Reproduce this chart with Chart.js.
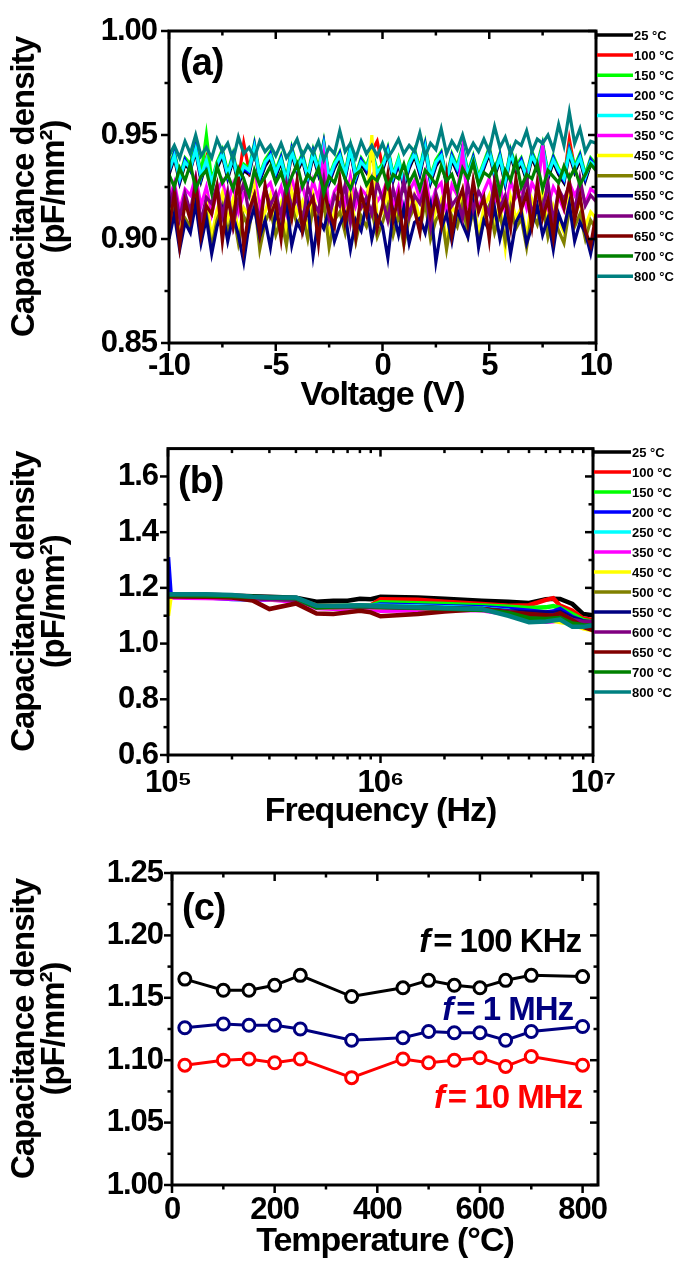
<!DOCTYPE html>
<html>
<head>
<meta charset="utf-8">
<script src="https://cdn.jsdelivr.net/npm/chart.js@4.4.0/dist/chart.umd.min.js"></script>
<style>
  html, body { margin: 0; padding: 0; background: #fff; }
  #page { position: relative; width: 678px; height: 1262px; overflow: hidden; }
  canvas { position: absolute; left: 0; }
</style>
</head>
<body>
<div id="page">
  <canvas id="chartA" width="678" height="420" style="top:0px"></canvas>
  <canvas id="chartB" width="678" height="425" style="top:420px"></canvas>
  <canvas id="chartC" width="678" height="417" style="top:845px"></canvas>
</div>
<script>
// ============================================
// Capacitance density vs voltage / frequency / temperature
// ============================================

// --- shared legend (annealing temperatures) ---
const tempLabels = ['25 °C', '100 °C', '150 °C', '200 °C', '250 °C', '350 °C', '450 °C',
  '500 °C', '550 °C', '600 °C', '650 °C', '700 °C', '800 °C'];
const seriesColors = ['#000000', '#ff0000', '#00ff00', '#0000ff', '#00ffff', '#ff00ff', '#ffff00',
  '#808000', '#000080', '#800080', '#800000', '#008000', '#008080'];

// --- panel (a): C-V sweep ---
const voltage = [-10, -9.75, -9.5, -9.25, -9, -8.75, -8.5, -8.25, -8, -7.75, -7.5, -7.25, -7, -6.75, -6.5, -6.25, -6, -5.75, -5.5, -5.25,
  -5, -4.75, -4.5, -4.25, -4, -3.75, -3.5, -3.25, -3, -2.75, -2.5, -2.25, -2, -1.75, -1.5, -1.25, -1, -0.75, -0.5, -0.25,
  0, 0.25, 0.5, 0.75, 1, 1.25, 1.5, 1.75, 2, 2.25, 2.5, 2.75, 3, 3.25, 3.5, 3.75, 4, 4.25, 4.5, 4.75,
  5, 5.25, 5.5, 5.75, 6, 6.25, 6.5, 6.75, 7, 7.25, 7.5, 7.75, 8, 8.25, 8.5, 8.75, 9, 9.25, 9.5, 9.75, 10];

const cvT25 = [0.931,0.939,0.927,0.936,0.933,0.942,0.928,0.937,0.925,0.934,0.940,0.929,0.938,0.926,0.933,0.931,0.943,0.928,0.935,0.939,
  0.930,0.937,0.926,0.941,0.932,0.938,0.928,0.940,0.931,0.944,0.927,0.934,0.939,0.929,0.942,0.928,0.936,0.932,0.940,0.930,
  0.933,0.941,0.928,0.936,0.925,0.934,0.940,0.931,0.943,0.927,0.935,0.939,0.926,0.938,0.932,0.942,0.929,0.937,0.927,0.934,
  0.941,0.930,0.938,0.926,0.940,0.932,0.936,0.928,0.939,0.933,0.943,0.929,0.937,0.931,0.927,0.941,0.932,0.938,0.928,0.936,0.934];
const cvT100 = [0.933,0.941,0.929,0.938,0.935,0.945,0.930,0.939,0.927,0.936,0.942,0.931,0.940,0.928,0.946,0.933,0.944,0.930,0.937,0.941,
  0.932,0.939,0.928,0.943,0.934,0.940,0.930,0.942,0.933,0.946,0.929,0.936,0.941,0.931,0.944,0.930,0.938,0.934,0.942,0.947,
  0.935,0.943,0.930,0.938,0.927,0.936,0.942,0.933,0.945,0.929,0.937,0.941,0.928,0.940,0.934,0.944,0.931,0.939,0.929,0.936,
  0.943,0.932,0.940,0.928,0.942,0.934,0.938,0.930,0.941,0.935,0.945,0.931,0.939,0.933,0.929,0.948,0.934,0.940,0.930,0.938,0.935];
const cvT150 = [0.934,0.942,0.930,0.939,0.936,0.946,0.931,0.950,0.928,0.937,0.943,0.932,0.941,0.929,0.936,0.934,0.946,0.931,0.938,0.942,
  0.933,0.940,0.929,0.944,0.935,0.941,0.931,0.943,0.934,0.947,0.930,0.937,0.942,0.932,0.945,0.931,0.939,0.935,0.943,0.933,
  0.936,0.944,0.931,0.939,0.928,0.937,0.943,0.934,0.946,0.930,0.938,0.942,0.929,0.941,0.935,0.945,0.932,0.940,0.930,0.937,
  0.944,0.933,0.941,0.929,0.943,0.935,0.939,0.931,0.942,0.936,0.946,0.932,0.940,0.934,0.930,0.944,0.935,0.941,0.931,0.939,0.936];
const cvT200 = [0.932,0.941,0.928,0.938,0.933,0.944,0.929,0.937,0.926,0.935,0.942,0.930,0.940,0.927,0.934,0.932,0.945,0.929,0.936,0.941,
  0.931,0.939,0.927,0.943,0.933,0.940,0.929,0.942,0.932,0.946,0.928,0.935,0.941,0.930,0.944,0.929,0.938,0.933,0.942,0.931,
  0.934,0.943,0.929,0.937,0.926,0.935,0.942,0.932,0.945,0.928,0.936,0.941,0.927,0.940,0.933,0.944,0.930,0.939,0.928,0.935,
  0.943,0.931,0.940,0.927,0.942,0.933,0.938,0.929,0.941,0.934,0.945,0.930,0.939,0.932,0.928,0.943,0.933,0.940,0.929,0.938,0.934];
const cvT250 = [0.933,0.940,0.929,0.937,0.934,0.943,0.930,0.938,0.927,0.936,0.941,0.931,0.939,0.928,0.935,0.933,0.944,0.930,0.937,0.940,
  0.932,0.938,0.928,0.942,0.934,0.939,0.930,0.941,0.933,0.945,0.929,0.936,0.940,0.931,0.943,0.930,0.937,0.934,0.941,0.932,
  0.935,0.942,0.930,0.938,0.927,0.936,0.941,0.933,0.944,0.929,0.937,0.940,0.928,0.939,0.934,0.943,0.931,0.938,0.929,0.936,
  0.942,0.932,0.939,0.928,0.941,0.934,0.937,0.930,0.940,0.935,0.944,0.931,0.938,0.933,0.929,0.942,0.934,0.939,0.930,0.937,0.935];
const cvT350 = [0.919,0.927,0.914,0.924,0.921,0.930,0.916,0.925,0.912,0.923,0.928,0.917,0.926,0.913,0.922,0.920,0.931,0.915,0.924,0.927,
  0.918,0.925,0.913,0.929,0.920,0.926,0.915,0.928,0.919,0.940,0.914,0.923,0.927,0.917,0.930,0.916,0.924,0.921,0.928,0.918,
  0.922,0.929,0.916,0.925,0.913,0.923,0.928,0.919,0.931,0.915,0.924,0.927,0.912,0.926,0.921,0.942,0.917,0.925,0.914,0.923,
  0.929,0.918,0.926,0.913,0.928,0.920,0.924,0.915,0.927,0.922,0.945,0.916,0.925,0.920,0.914,0.927,0.921,0.926,0.917,0.924,0.922];
const cvT450 = [0.910,0.920,0.904,0.916,0.912,0.924,0.907,0.918,0.901,0.914,0.922,0.909,0.919,0.903,0.915,0.911,0.925,0.906,0.913,0.921,
  0.908,0.917,0.902,0.923,0.912,0.918,0.905,0.921,0.910,0.926,0.900,0.914,0.919,0.907,0.924,0.904,0.917,0.912,0.950,0.909,
  0.913,0.922,0.906,0.918,0.899,0.915,0.921,0.908,0.925,0.903,0.914,0.919,0.897,0.916,0.911,0.923,0.906,0.920,0.902,0.915,
  0.921,0.908,0.917,0.896,0.920,0.910,0.915,0.901,0.919,0.912,0.924,0.905,0.916,0.909,0.903,0.920,0.911,0.918,0.906,0.913,0.910];
const cvT500 = [0.904,0.915,0.899,0.910,0.906,0.918,0.901,0.912,0.896,0.909,0.916,0.903,0.913,0.898,0.911,0.905,0.919,0.895,0.908,0.914,
  0.902,0.910,0.897,0.916,0.907,0.912,0.900,0.915,0.905,0.918,0.896,0.909,0.913,0.903,0.917,0.899,0.911,0.906,0.914,0.901,
  0.908,0.916,0.902,0.912,0.897,0.910,0.915,0.904,0.918,0.900,0.909,0.913,0.895,0.911,0.906,0.917,0.902,0.914,0.898,0.910,
  0.916,0.903,0.912,0.899,0.915,0.905,0.910,0.896,0.913,0.907,0.917,0.901,0.911,0.904,0.898,0.914,0.906,0.912,0.900,0.909,0.905];
const cvT550 = [0.900,0.912,0.895,0.908,0.903,0.917,0.898,0.910,0.893,0.906,0.914,0.899,0.911,0.902,0.889,0.907,0.915,0.901,0.909,0.896,
  0.913,0.904,0.918,0.897,0.908,0.903,0.916,0.892,0.910,0.905,0.914,0.899,0.907,0.912,0.895,0.909,0.904,0.917,0.900,0.911,
  0.906,0.891,0.913,0.902,0.915,0.898,0.908,0.910,0.903,0.916,0.889,0.905,0.912,0.899,0.914,0.907,0.901,0.918,0.896,0.909,
  0.904,0.915,0.900,0.911,0.893,0.908,0.913,0.898,0.906,0.916,0.902,0.910,0.895,0.912,0.905,0.917,0.899,0.908,0.903,0.893,0.906];
const cvT600 = [0.915,0.925,0.910,0.922,0.913,0.928,0.908,0.920,0.917,0.926,0.911,0.923,0.906,0.919,0.927,0.912,0.921,0.909,0.924,0.916,
  0.922,0.911,0.927,0.914,0.920,0.907,0.925,0.918,0.913,0.929,0.910,0.921,0.916,0.926,0.908,0.923,0.915,0.920,0.912,0.927,
  0.919,0.909,0.924,0.914,0.928,0.911,0.921,0.917,0.925,0.906,0.922,0.913,0.927,0.916,0.920,0.910,0.926,0.914,0.923,0.918,
  0.912,0.928,0.915,0.921,0.909,0.925,0.917,0.930,0.911,0.922,0.914,0.927,0.908,0.924,0.919,0.926,0.913,0.929,0.916,0.921,0.918];
const cvT650 = [0.905,0.922,0.897,0.918,0.909,0.927,0.902,0.916,0.912,0.925,0.899,0.920,0.907,0.930,0.896,0.914,0.921,0.903,0.926,0.911,
  0.918,0.900,0.923,0.910,0.928,0.904,0.915,0.920,0.898,0.924,0.913,0.906,0.929,0.908,0.919,0.901,0.922,0.912,0.927,0.905,
  0.916,0.931,0.909,0.921,0.899,0.925,0.914,0.903,0.926,0.911,0.919,0.907,0.930,0.902,0.917,0.924,0.908,0.928,0.913,0.920,
  0.900,0.926,0.912,0.918,0.905,0.929,0.914,0.922,0.906,0.927,0.910,0.919,0.901,0.924,0.915,0.928,0.909,0.921,0.904,0.897,0.912];
const cvT700 = [0.931,0.925,0.934,0.928,0.936,0.924,0.930,0.933,0.922,0.935,0.927,0.931,0.924,0.934,0.929,0.921,0.933,0.926,0.930,0.935,
  0.927,0.932,0.923,0.930,0.936,0.925,0.931,0.928,0.934,0.922,0.930,0.927,0.935,0.929,0.924,0.931,0.933,0.926,0.930,0.928,
  0.934,0.925,0.931,0.929,0.936,0.927,0.932,0.924,0.933,0.930,0.926,0.935,0.928,0.931,0.923,0.934,0.929,0.937,0.926,0.932,
  0.930,0.935,0.922,0.933,0.928,0.938,0.925,0.931,0.929,0.936,0.924,0.933,0.930,0.927,0.935,0.929,0.934,0.926,0.931,0.936,0.933];
const cvT800 = [0.940,0.945,0.939,0.947,0.941,0.950,0.940,0.944,0.939,0.948,0.942,0.946,0.938,0.949,0.941,0.944,0.939,0.947,0.942,0.945,
  0.940,0.946,0.939,0.943,0.948,0.940,0.945,0.941,0.947,0.938,0.944,0.941,0.952,0.942,0.946,0.939,0.947,0.941,0.945,0.940,
  0.946,0.939,0.943,0.948,0.941,0.945,0.942,0.951,0.940,0.946,0.943,0.953,0.941,0.947,0.943,0.950,0.941,0.946,0.942,0.948,
  0.942,0.954,0.944,0.949,0.941,0.947,0.945,0.952,0.942,0.948,0.946,0.950,0.943,0.955,0.945,0.961,0.946,0.953,0.942,0.947,0.946];
const cvSeries = [cvT25, cvT100, cvT150, cvT200, cvT250, cvT350, cvT450, cvT500, cvT550, cvT600, cvT650, cvT700, cvT800];

const voltTicks = [-10, -5, 0, 5, 10];
const voltTickLabels = ['-10', '-5', '0', '5', '10'];
const voltMinor = [-7.5, -2.5, 2.5, 7.5];
const capATicks = [0.85, 0.90, 0.95, 1.00];
const capATickLabels = ['0.85', '0.90', '0.95', '1.00'];
const capAMinor = [0.875, 0.925, 0.975];

// --- panel (b): C-f sweep ---
const freq = [1e5, 1.03e5, 1.5e5, 2e5, 2.5e5, 3e5, 4e5, 5e5, 6e5, 7e5, 8e5, 9e5, 1e6, 1.5e6, 2e6, 3e6, 4e6, 5e6, 6e6, 6.5e6, 7e6, 8e6, 9e6, 1e7];
const cfT25  = [1.176,1.176,1.175,1.173,1.170,1.168,1.165,1.150,1.154,1.154,1.161,1.159,1.168,1.165,1.161,1.154,1.150,1.146,1.159,1.161,1.160,1.142,1.106,1.102];
const cfT100 = [1.172,1.172,1.171,1.169,1.166,1.163,1.160,1.137,1.136,1.136,1.138,1.137,1.159,1.157,1.150,1.142,1.136,1.138,1.157,1.163,1.136,1.118,1.090,1.085];
const cfT150 = [1.173,1.173,1.172,1.170,1.166,1.163,1.161,1.135,1.135,1.136,1.137,1.136,1.148,1.145,1.142,1.137,1.132,1.128,1.130,1.135,1.128,1.106,1.085,1.078];
const cfT200 = [1.310,1.170,1.166,1.160,1.158,1.158,1.157,1.133,1.133,1.134,1.135,1.134,1.140,1.137,1.134,1.130,1.124,1.118,1.112,1.115,1.124,1.095,1.080,1.070];
const cfT250 = [1.172,1.172,1.171,1.169,1.166,1.162,1.160,1.134,1.134,1.135,1.136,1.135,1.136,1.133,1.130,1.126,1.118,1.100,1.095,1.098,1.100,1.088,1.075,1.072];
const cfT350 = [1.165,1.165,1.164,1.162,1.160,1.158,1.150,1.128,1.125,1.124,1.125,1.124,1.118,1.120,1.121,1.120,1.105,1.088,1.078,1.080,1.085,1.075,1.060,1.055];
const cfT450 = [1.100,1.170,1.169,1.167,1.164,1.160,1.158,1.131,1.130,1.131,1.132,1.131,1.130,1.128,1.126,1.122,1.112,1.098,1.085,1.082,1.077,1.070,1.055,1.048];
const cfT500 = [1.171,1.171,1.170,1.168,1.165,1.161,1.159,1.132,1.131,1.132,1.133,1.132,1.131,1.129,1.127,1.123,1.113,1.102,1.095,1.093,1.090,1.078,1.065,1.058];
const cfT550 = [1.171,1.171,1.170,1.168,1.165,1.161,1.159,1.133,1.132,1.133,1.134,1.133,1.132,1.130,1.128,1.124,1.116,1.112,1.112,1.110,1.114,1.092,1.080,1.075];
const cfT600 = [1.170,1.170,1.169,1.167,1.163,1.160,1.157,1.131,1.130,1.131,1.132,1.131,1.130,1.128,1.126,1.122,1.114,1.104,1.100,1.102,1.105,1.085,1.078,1.078];
const cfT650 = [1.170,1.170,1.168,1.165,1.155,1.124,1.144,1.108,1.106,1.112,1.118,1.112,1.098,1.106,1.115,1.124,1.112,1.106,1.102,1.100,1.109,1.083,1.060,1.048];
const cfT700 = [1.174,1.174,1.173,1.171,1.168,1.165,1.163,1.130,1.133,1.134,1.135,1.134,1.132,1.129,1.126,1.121,1.110,1.091,1.088,1.090,1.092,1.072,1.066,1.065];
const cfT800 = [1.177,1.177,1.177,1.174,1.168,1.165,1.165,1.136,1.136,1.136,1.138,1.136,1.134,1.130,1.127,1.124,1.100,1.077,1.079,1.083,1.086,1.060,1.060,1.066];
const cfSeries = [cfT25, cfT100, cfT150, cfT200, cfT250, cfT350, cfT450, cfT500, cfT550, cfT600, cfT650, cfT700, cfT800];

const freqTicks = [1e5, 1e6, 1e7];
const freqTickLabels = ['10⁵', '10⁶', '10⁷'];
const freqMinor = [2e5, 3e5, 4e5, 5e5, 6e5, 7e5, 8e5, 9e5, 2e6, 3e6, 4e6, 5e6, 6e6, 7e6, 8e6, 9e6];
const capBTicks = [0.6, 0.8, 1.0, 1.2, 1.4, 1.6];
const capBTickLabels = ['0.6', '0.8', '1.0', '1.2', '1.4', '1.6'];
const capBMinor = [0.7, 0.9, 1.1, 1.3, 1.5];

// --- panel (c): C vs annealing temperature ---
const annealTemp = [25, 100, 150, 200, 250, 350, 450, 500, 550, 600, 650, 700, 800];
const capAt100kHz = [1.165, 1.156, 1.156, 1.160, 1.168, 1.151, 1.158, 1.164, 1.160, 1.158, 1.164, 1.168, 1.167];
const capAt1MHz   = [1.126, 1.129, 1.128, 1.128, 1.125, 1.116, 1.118, 1.123, 1.122, 1.122, 1.116, 1.123, 1.127];
const capAt10MHz  = [1.096, 1.100, 1.101, 1.098, 1.101, 1.086, 1.101, 1.098, 1.100, 1.102, 1.095, 1.103, 1.096];
const freqNotes = ['= 100 KHz', '= 1 MHz', '= 10 MHz'];
const freqNoteColors = ['#000000', '#000080', '#ff0000'];

const tempTicks = [0, 200, 400, 600, 800];
const tempTickLabels = ['0', '200', '400', '600', '800'];
const tempMinor = [100, 300, 500, 700];
const capCTicks = [1.00, 1.05, 1.10, 1.15, 1.20, 1.25];
const capCTickLabels = ['1.00', '1.05', '1.10', '1.15', '1.20', '1.25'];
const capCMinor = [1.025, 1.075, 1.125, 1.175, 1.225];

const yTitle = ['Capacitance density', '(pF/mm²)'];

// ============================================
const FONT = "'Liberation Sans', Arial, Helvetica, sans-serif";
Chart.defaults.font.family = FONT;
Chart.defaults.color = '#000';

// frame, mirrored ticks, legend, panel letter, notes
const decor = {
  id: 'decor',
  beforeDraw(chart) {
    chart.ctx.letterSpacing = '-1px';
  },
  afterDatasetsDraw(chart, args, o) {
    const { ctx, chartArea: a } = chart;
    const xs = chart.scales.x, ys = chart.scales.y;
    const seg = (x1, y1, x2, y2) => { ctx.beginPath(); ctx.moveTo(x1, y1); ctx.lineTo(x2, y2); ctx.stroke(); };
    ctx.save();
    ctx.strokeStyle = '#000';
    ctx.lineWidth = 3;
    ctx.strokeRect(a.left, a.top, a.right - a.left, a.bottom - a.top);

    ctx.lineWidth = 2.5;
    const xTick = (v, len) => {
      const px = xs.getPixelForValue(v);
      seg(px, a.bottom, px, a.bottom + len);
      seg(px, a.top, px, a.top + len);
    };
    const yTick = (v, len) => {
      const py = ys.getPixelForValue(v);
      seg(a.left - len, py, a.left, py);
      seg(a.right - len, py, a.right, py);
    };
    o.xMajor.forEach(v => xTick(v, 8));
    o.xMinor.forEach(v => xTick(v, 4.5));
    o.yMajor.forEach(v => yTick(v, 8));
    o.yMinor.forEach(v => yTick(v, 4.5));

    // panel letter
    ctx.fillStyle = '#000';
    ctx.letterSpacing = '-1px';
    ctx.font = 'bold 38px ' + FONT;
    ctx.textAlign = 'left';
    ctx.textBaseline = 'alphabetic';
    ctx.fillText(o.letter, a.left + o.letterDx, a.top + o.letterDy);

    // legend
    if (o.legend) {
      const L = o.legend;
      ctx.letterSpacing = '0px';
      ctx.font = 'bold 13px ' + FONT;
      ctx.textBaseline = 'middle';
      ctx.lineWidth = 3.5;
      L.labels.forEach((t, i) => {
        const y = L.y0 + i * L.step;
        ctx.strokeStyle = L.colors[i];
        seg(L.x0, y, L.x1, y);
        ctx.fillStyle = '#000';
        ctx.fillText(t, L.x1 + 1, y + 1);
      });
    }

    // frequency notes (panel c)
    if (o.notes) {
      ctx.letterSpacing = '-1px';
      ctx.textBaseline = 'alphabetic';
      o.notes.forEach(n => {
        ctx.font = 'bold 33px ' + FONT;
        const wRest = ctx.measureText(n.text).width;
        ctx.font = 'italic bold 33px ' + FONT;
        const wF = ctx.measureText('f').width;
        const x0 = n.right - wRest - wF - 4;
        ctx.fillStyle = n.color;
        ctx.fillText('f', x0, n.baseline);
        ctx.font = 'bold 33px ' + FONT;
        ctx.fillText(n.text, x0 + wF + 4, n.baseline);
      });
    }
    ctx.restore();
  }
};
Chart.register(decor);

function buildChart(canvasId, cfg) {
  const canvas = document.getElementById(canvasId);
  const H = canvas.height;
  const tickFont = { size: 31, weight: 'bold' };
  return new Chart(canvas, {
    type: 'line',
    data: { datasets: cfg.datasets },
    options: {
      responsive: false,
      animation: false,
      events: [],
      layout: { padding: { left: 0, right: canvas.width - cfg.area.right, top: cfg.area.top, bottom: 0 } },
      plugins: {
        legend: { display: false },
        tooltip: { enabled: false },
        decor: cfg.decor
      },
      scales: {
        x: {
          type: cfg.xType,
          min: cfg.xMin,
          max: cfg.xMax,
          grid: { display: false, drawTicks: false },
          border: { display: false },
          afterBuildTicks: s => { s.ticks = cfg.xTicks.map(v => ({ value: v })); },
          afterFit: s => { s.height = H - cfg.area.bottom; },
          ticks: {
            autoSkip: false, maxRotation: 0, minRotation: 0,
            padding: cfg.xPad, color: '#000', font: tickFont,
            callback: (v, i) => cfg.xTickLabels[i]
          },
          title: {
            display: true, text: cfg.xTitle, color: '#000',
            font: { size: 34, weight: 'bold', lineHeight: 1 },
            padding: { top: 0, bottom: cfg.xTitlePad }
          }
        },
        y: {
          type: 'linear',
          min: cfg.yMin,
          max: cfg.yMax,
          grid: { display: false, drawTicks: false },
          border: { display: false },
          afterBuildTicks: s => { s.ticks = cfg.yTicks.map(v => ({ value: v })); },
          afterFit: s => { s.width = cfg.area.left; },
          ticks: {
            padding: cfg.yPad, color: '#000', font: tickFont,
            callback: (v, i) => cfg.yTickLabels[i]
          },
          title: {
            display: true, text: yTitle, color: '#000',
            font: { size: 33, weight: 'bold', lineHeight: '30px' },
            padding: { top: 10, bottom: 0 }
          }
        }
      }
    }
  });
}

// panel (a)
buildChart('chartA', {
  area: { left: 169, right: 596, top: 31, bottom: 343 },
  datasets: cvSeries.map((vals, i) => ({
    label: tempLabels[i],
    data: voltage.map((v, k) => ({ x: v, y: vals[k] })),
    borderColor: seriesColors[i],
    borderWidth: 3.2,
    pointRadius: 0,
    tension: 0,
    order: cvSeries.length - i
  })),
  xType: 'linear', xMin: -10, xMax: 10,
  xTicks: voltTicks, xTickLabels: voltTickLabels, xPad: 5,
  xTitle: 'Voltage (V)', xTitlePad: 7.5,
  yMin: 0.85, yMax: 1.00,
  yTicks: capATicks, yTickLabels: capATickLabels, yPad: 12,
  decor: {
    xMajor: voltTicks, xMinor: voltMinor, yMajor: capATicks, yMinor: capAMinor,
    letter: '(a)', letterDx: 11, letterDy: 44,
    legend: { labels: tempLabels, colors: seriesColors, x0: 597, x1: 633, y0: 35, step: 20.1 }
  }
});

// panel (b)
buildChart('chartB', {
  area: { left: 168, right: 593, top: 25, bottom: 335 },
  datasets: cfSeries.map((vals, i) => ({
    label: tempLabels[i],
    data: freq.map((f, k) => ({ x: f, y: vals[k] })),
    borderColor: seriesColors[i],
    borderWidth: 4.5,
    pointRadius: 0,
    tension: 0,
    order: cfSeries.length - i
  })),
  xType: 'logarithmic', xMin: 1e5, xMax: 1e7,
  xTicks: freqTicks, xTickLabels: freqTickLabels, xPad: 10,
  xTitle: 'Frequency (Hz)', xTitlePad: 16.5,
  yMin: 0.6, yMax: 1.7,
  yTicks: capBTicks, yTickLabels: capBTickLabels, yPad: 10,
  decor: {
    xMajor: freqTicks, xMinor: freqMinor, yMajor: capBTicks, yMinor: capBMinor,
    letter: '(b)', letterDx: 10, letterDy: 44,
    legend: { labels: tempLabels, colors: seriesColors, x0: 594, x1: 631, y0: 32, step: 20 }
  }
});

// panel (c)
const capSets = [capAt100kHz, capAt1MHz, capAt10MHz];
buildChart('chartC', {
  area: { left: 172, right: 598, top: 28, bottom: 340 },
  datasets: capSets.map((vals, i) => ({
    label: freqNotes[i],
    data: annealTemp.map((t, k) => ({ x: t, y: vals[k] })),
    borderColor: freqNoteColors[i],
    borderWidth: 3,
    pointRadius: 6,
    pointBorderWidth: 3,
    pointBackgroundColor: '#ffffff',
    pointBorderColor: freqNoteColors[i],
    tension: 0
  })),
  xType: 'linear', xMin: 0, xMax: 830,
  xTicks: tempTicks, xTickLabels: tempTickLabels, xPad: 6.5,
  xTitle: 'Temperature (°C)', xTitlePad: 3.8,
  yMin: 1.0, yMax: 1.25,
  yTicks: capCTicks, yTickLabels: capCTickLabels, yPad: 9,
  decor: {
    xMajor: tempTicks, xMinor: tempMinor, yMajor: capCTicks, yMinor: capCMinor,
    letter: '(c)', letterDx: 10, letterDy: 47,
    notes: [
      { text: freqNotes[0], color: freqNoteColors[0], right: 581, baseline: 107 },
      { text: freqNotes[1], color: freqNoteColors[1], right: 573, baseline: 175 },
      { text: freqNotes[2], color: freqNoteColors[2], right: 582, baseline: 263 }
    ]
  }
});
</script>
</body>
</html>
